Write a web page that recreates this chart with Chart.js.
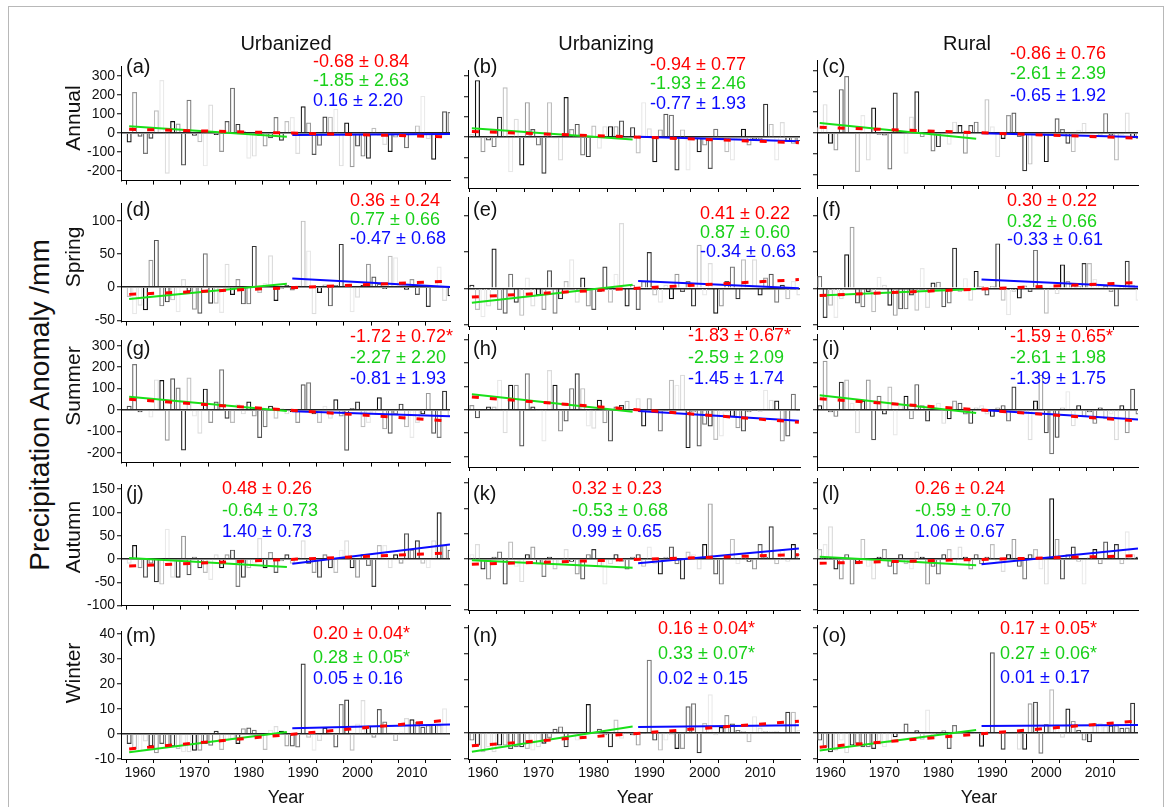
<!DOCTYPE html>
<html>
<head>
<meta charset="utf-8">
<script src="https://cdn.jsdelivr.net/npm/chart.js@4.4.1/dist/chart.umd.min.js"></script>
<style>
  body { margin: 0; background: #fff; }
  #fig { position: relative; width: 1167px; height: 807px; overflow: hidden; background: #fff;
         font-family: "Liberation Sans", Arial, sans-serif; color: #111; }
  #frame { position: absolute; left: 8px; top: 6px; width: 1154px; height: 820px; border: 1.5px solid #b8b8b8; }
  canvas { position: absolute; }
  .t { position: absolute; white-space: nowrap; line-height: 1; }
</style>
</head>
<body>
<div id="fig"><div id="frame"></div></div>
<script>
// ---- data ----
const years = Array.from({ length: 60 }, (_, i) => 1958 + i);

const colTitles = ['Urbanized', 'Urbanizing', 'Rural'];
const rowTitles = ['Annual', 'Spring', 'Summer', 'Autumn', 'Winter'];
const panelLetters = ['a','b','c','d','e','f','g','h','i','j','k','l','m','n','o'];

const xTickYears = [1960, 1965, 1970, 1975, 1980, 1985, 1990, 1995, 2000, 2005, 2010, 2015];
const yTicksAnnual = [-200, -100, 0, 100, 200, 300];
const yTicksSpring = [-50, 0, 50, 100];
const yTicksSummer = [-200, -100, 0, 100, 200, 300];
const yTicksAutumn = [-100, -50, 0, 50, 100, 150];
const yTicksWinter = [-10, 0, 10, 20, 30, 40];

const annualUrbanized = [
  -50, 215, -20, -110, -30, 120, 278, -214, 63, 50,
  -171, 175, -15, -48, -175, 150, -10, -100, 63, 238,
  48, 10, -135, -124, -15, -71, -27, 84, -40, 63,
  84, -110, 140, 55, -115, -67, 87, 85, 127, -175,
  55, -180, -71, -124, -135, 28, -16, -63, -100, -24,
  -10, -80, -10, 40, 195, -32, -140, -10, 114, 110
];
const annualUrbanizing = [
  15, 280, -74, -16, -49, 100, 245, -172, 90, -139,
  172, 40, -41, -180, 172, -8, -115, 197, 40, 65,
  -90, -98, 57, -57, 54, 54, 54, 82, 5, 49,
  -80, 172, 44, -123, 38, 115, 110, -164, 38, -164,
  -8, -74, -41, -156, 41, -10, -74, -115, -10, 41,
  -41, -10, -10, 164, 65, -115, 74, -20, -33, -20
];
const annualRural = [
  27, 138, -52, -84, 210, 273, -5, -187, 86, -132,
  122, -10, -12, -175, 194, 10, -100, 79, 200, -20,
  5, -89, -68, 5, -57, 54, 38, -100, 38, 54,
  5, 162, 32, -116, -29, 86, 98, -20, -184, -152,
  -10, -5, -140, -10, 70, 19, -52, -92, 15, 48,
  5, -5, -8, 95, -12, -132, -10, 98, -25, -29
];
const springUrbanized = [
  -15, -41, -28, -35, 41, 71, -29, -23, -20, -38,
  12, -7, -34, -40, 51, -25, -25, -39, 35, -12,
  12, -26, -26, 62, -9, 6, 48, -21, -3, 3,
  -5, 2, 100, 55, -41, -9, 4, -29, 3, 65,
  4, -38, -16, 3, 35, 16, 5, -3, 47, 45,
  3, -4, 12, -12, 3, -30, 2, 31, -21, -14
];
const springUrbanizing = [
  5, -30, -40, -25, 55, -30, -35, 20, -20, -38,
  15, -25, -10, -30, 25, -35, -15, 10, 40, -20,
  15, -25, -30, -5, 30, -20, 20, 90, -25, 5,
  -30, 10, 50, -10, -20, 5, -15, 20, -5, 10,
  -25, 60, -10, 35, -35, -25, 10, 30, -15, 40,
  5, 40, -10, 15, 20, -20, 5, -15, 10, -10
];
const springRural = [
  17, -41, -24, -41, -15, 47, 85, -21, -26, -5,
  -33, 16, 5, -24, -38, -29, -29, -10, -31, 28,
  -27, 8, 9, -26, -21, 56, -5, 14, -17, 24,
  3, -10, 3, 62, -17, -37, -5, -14, 4, -5,
  53, 2, -35, 3, -8, 33, 10, 5, 3, 35,
  35, 13, 4, 3, -5, -25, 3, 38, 5, -17
];
const summerUrbanized = [
  20, 215, -10, 5, -35, 143, 140, -143, 148, 105,
  -188, 152, -30, -110, 100, -60, 40, 190, -40, -60,
  30, -20, 40, -30, -130, -80, 20, -40, 10, -20,
  -10, -60, 120, 130, -20, -60, 20, -40, 50, -30,
  -190, 10, 40, -80, -60, -20, 60, -90, -110, -20,
  30, -80, -130, -60, -20, 80, -110, -130, 90, -30
];
const summerUrbanizing = [
  21, -36, -5, 14, 14, 129, -100, 107, 107, -157,
  157, 14, -5, -136, 171, 107, -93, -50, 93, 157,
  93, -71, -81, 43, -57, -136, 14, 21, 39, -5,
  50, -71, 50, -5, -93, -5, 129, 107, 150, -164,
  -10, -157, -64, -71, -129, -114, -10, -31, -79, -93,
  -10, -5, -8, 86, 43, 40, -136, -114, 69, -5
];
const summerRural = [
  20, 210, -10, -30, 120, 130, 30, -100, 40, 130,
  -130, 60, -20, 100, -110, 20, 60, -40, 110, 20,
  -50, 10, 30, -60, -40, 40, 30, -20, -60, 10,
  20, -20, -30, 10, 20, -50, 100, -10, -20, -130,
  40, 150, -100, -190, -120, 10, 80, -70, 20, -30,
  -10, -60, 10, -40, -20, -130, 20, -100, 90, -20
];
const autumnUrbanized = [
  -10, 30, -20, -40, -10, -50, -55, 65, -40, -40,
  50, -35, 5, -20, -30, -45, 10, -20, 10, 20,
  -60, -40, -20, -10, 45, -20, 15, -30, -5, 10,
  -10, 5, 40, -10, -30, -40, 10, -20, -30, 20,
  40, -20, -40, 10, -15, -60, 30, 30, -20, 10,
  -10, 55, 20, 40, -10, -20, 40, 100, 30, 20
];
const autumnUrbanizing = [
  10, 30, -20, -40, 5, 15, -50, 35, -15, -45,
  10, 25, -10, -35, 5, -20, -10, 20, -5, -30,
  -40, 10, 20, -15, -50, -10, 10, -5, -20, 5,
  10, -15, 25, -10, -30, 5, 25, -10, -40, 15,
  10, -20, 30, 110, -30, -50, 5, 40, -10, 10,
  -5, -20, 30, 5, 65, -10, 20, -5, 30, 10
];
const autumnRural = [
  20, 30, 65, -20, -40, 10, -50, -10, 40, -15,
  -40, 5, 20, -15, -30, 10, -10, -20, 15, 5,
  -50, -15, -30, 10, 20, -10, 25, 5, -20, 10,
  -10, 5, 30, -5, -25, 10, 40, -15, -40, 10,
  20, -20, -50, 120, 40, -40, 10, 25, -5, -50,
  5, 20, -10, 35, 5, 30, -10, 55, 10, 5
];
const winterUrbanized = [
  -4, -6, -7, -3, -5, -7.7, -4, -5, -5, -6,
  -7.3, -7.3, -6.7, -6.7, -4, -4.7, 1.3, -6.4, -2.8, -2,
  -4, 2.3, 2.6, 1.7, -1, -6.4, 1.7, 3.2, 1.3, -5,
  -5, -5.4, 28.2, -1.5, -6.7, -2.8, 2.6, 0.3, -5.4, 12,
  13.8, -6.7, 4.2, 13.6, 3.3, -1.5, 10, 5, 0.5, -2.8,
  1, 6.4, 5.9, 4.9, 2.9, 3.6, 3.8, 3.6, 10.3, -0.5
];
const winterUrbanizing = [
  -3, -4.9, -7.4, -5.5, -7.4, -4.9, -4.9, -6.2, -5.5, -5.5,
  -6.2, -6.8, -5.5, -4.2, -2, 1.5, 2.4, -5.5, 0.3, -3,
  -1, 10.9, -0.5, 1.5, -1, -5.5, 5, -2.3, -0.5, -1,
  -4.9, -0.5, 27.8, -3, -6.8, -3, -1, -6.2, -6.2, 10.1,
  11.2, -7.8, 3.7, 14.6, -1, 2.2, 6.7, 3.5, 1, 0.5,
  -3.6, 6.3, 2, 0.5, 0.5, 0.5, -0.5, 8, 8, 1
];
const winterRural = [
  -3, -5.5, -7.4, -6.8, -3, -7.8, -4.9, -4, -5.5, -5.5,
  -6.2, -4.5, -5.5, -4, -1.7, -0.5, 3.5, 0.3, 0.9, -2.7,
  8.8, -2.3, -0.5, 0.9, -6.2, 2.9, 0.5, -0.5, 0.3, -0.5,
  -5.3, -0.3, 30.6, -0.3, -6.5, 0.3, 0.5, -6.5, -6.5, 11.2,
  11.8, -8, 3.2, 16.5, 3.2, -1.9, 9.2, 4.5, 1, -3,
  -3.6, 3.7, 3.7, 2.5, 2.8, 2.8, 1.9, 2, 11.4, 0
];

// trend lines: [value at start, value at end]
const trendFullYears = [1958, 2017];
const trendEarlyYears = [1958, 1987];
const trendLateYears = [1988, 2017];
const trendFull = [
  [20, -20], [28, -27], [27, -25],
  [-11, 9], [-12, 12], [-10, 8],
  [50, -51], [55, -53], [47, -47],
  [-15, 13], [-10, 9], [-8, 7],
  [-6, 5.6], [-5, 4.4], [-5.5, 4.5]
];
const trendEarly = [
  [35, -19], [44, -12], [48, -28],
  [-18, 5], [-20, 5], [-10, -1],
  [62, -4], [67, -8], [62, -14],
  [2, -17], [-2, -17], [5, -12],
  [-7.3, 0.8], [-7.2, 2.4], [-6.8, 1.0]
];
const trendLate = [
  [-10, -5], [2, -20], [-2, -20],
  [13, 0], [10, 0], [12, 2],
  [-5, -29], [-5, -47], [-1, -41],
  [-10, 31], [-8, 21], [-10, 21],
  [2.3, 3.8], [2.2, 2.8], [2.6, 2.9]
];

const statsFull = [
  '-0.68 ± 0.84', '-0.94 ± 0.77', '-0.86 ± 0.76',
  '0.36 ± 0.24', '0.41 ± 0.22', '0.30 ± 0.22',
  '-1.72 ± 0.72*', '-1.83 ± 0.67*', '-1.59 ± 0.65*',
  '0.48 ± 0.26', '0.32 ± 0.23', '0.26 ± 0.24',
  '0.20 ± 0.04*', '0.16 ± 0.04*', '0.17 ± 0.05*'
];
const statsEarly = [
  '-1.85 ± 2.63', '-1.93 ± 2.46', '-2.61 ± 2.39',
  '0.77 ± 0.66', '0.87 ± 0.60', '0.32 ± 0.66',
  '-2.27 ± 2.20', '-2.59 ± 2.09', '-2.61 ± 1.98',
  '-0.64 ± 0.73', '-0.53 ± 0.68', '-0.59 ± 0.70',
  '0.28 ± 0.05*', '0.33 ± 0.07*', '0.27 ± 0.06*'
];
const statsLate = [
  '0.16 ± 2.20', '-0.77 ± 1.93', '-0.65 ± 1.92',
  '-0.47 ± 0.68', '-0.34 ± 0.63', '-0.33 ± 0.61',
  '-0.81 ± 1.93', '-1.45 ± 1.74', '-1.39 ± 1.75',
  '1.40 ± 0.73', '0.99 ± 0.65', '1.06 ± 0.67',
  '0.05 ± 0.16', '0.02 ± 0.15', '0.01 ± 0.17'
];

const panelSeries = [
  annualUrbanized, annualUrbanizing, annualRural,
  springUrbanized, springUrbanizing, springRural,
  summerUrbanized, summerUrbanizing, summerRural,
  autumnUrbanized, autumnUrbanizing, autumnRural,
  winterUrbanized, winterUrbanizing, winterRural
];
const rowTicks = [yTicksAnnual, yTicksSpring, yTicksSummer, yTicksAutumn, yTicksWinter];

// ---- layout (page pixels) ----
const FONT = '"Liberation Sans", Arial, sans-serif';
const colBox = [
  { l: 121, r: 450, min: 1956.5, max: 2017.0 },
  { l: 468, r: 800, min: 1957.3, max: 2017.2 },
  { l: 817, r: 1138, min: 1957.5, max: 2017.0 }
];
const rowBox = [
  { t: 60, b: 185, min: -250, max: 350 },
  { t: 197, b: 326, min: -52, max: 126 },
  { t: 334, b: 467, min: -245, max: 325 },
  { t: 478, b: 610, min: -100, max: 160 },
  { t: 625, b: 759, min: -10, max: 41 }
];
// panel (b) sits a little lower than its neighbours
const boxOverride = { 1: { t: 70, b: 188, min: -250, max: 330 } };

// [x, yRed, yGreen, yBlue] for the slope texts
const statPos = [
  [313, 61, 80, 100], [650, 64, 83, 103], [1010, 53, 73, 95],
  [350, 200, 219, 238], [700, 213, 232, 251], [1007, 200, 221, 239],
  [350, 336, 357, 378], [688, 335, 357, 378], [1010, 336, 357, 378],
  [222, 488, 510, 531], [572, 488, 510, 531], [915, 488, 510, 531],
  [313, 633, 657, 678], [658, 628, 653, 678], [1000, 628, 653, 677]
];
const letterY = [66, 209, 348, 493, 635];
const shades = ['#111', '#bdbdbd', '#555', '#dcdcdc', '#333', '#999', '#e8e8e8', '#777'];

const Y_AXIS_W = 50;
const PAD_R = 6;
const PAD_T = 4;

const fig = document.getElementById('fig');

function addText (txt, x, y, opts = {}) {
  const d = document.createElement('div');
  d.className = 't';
  d.textContent = txt;
  d.style.left = x + 'px';
  d.style.top = y + 'px';
  d.style.fontSize = (opts.size || 18) + 'px';
  d.style.color = opts.color || '#111';
  let tf = opts.center ? 'translate(-50%,-50%)' : 'translateY(-50%)';
  if (opts.rotate) tf += ' rotate(-90deg)';
  d.style.transform = tf;
  fig.appendChild(d);
}

function makePanel (p) {
  const row = Math.floor(p / 3);
  const col = p % 3;
  const cb = colBox[col];
  const rb = Object.assign({}, rowBox[row], boxOverride[p] || {});
  const xH = row === 4 ? 24 : 6;

  const canvas = document.createElement('canvas');
  const w = (cb.r - cb.l) + Y_AXIS_W + PAD_R;
  const h = (rb.b - rb.t) + PAD_T + xH;
  canvas.width = w;
  canvas.height = h;
  canvas.style.left = (cb.l - Y_AXIS_W) + 'px';
  canvas.style.top = (rb.t - PAD_T) + 'px';
  canvas.style.width = w + 'px';
  canvas.style.height = h + 'px';
  fig.appendChild(canvas);

  const vals = panelSeries[p];
  const line = (xs, ys) => [{ x: xs[0], y: ys[0] }, { x: xs[1], y: ys[1] }];

  new Chart(canvas, {
    type: 'bar',
    data: {
      datasets: [
        {
          type: 'line',
          data: line(trendFullYears, trendFull[p]),
          borderColor: '#ff0000',
          borderWidth: 3,
          borderDash: [7, 11],
          pointRadius: 0,
          order: 1
        },
        {
          type: 'line',
          data: line(trendEarlyYears, trendEarly[p]),
          borderColor: '#19e019',
          borderWidth: 2,
          pointRadius: 0,
          order: 2
        },
        {
          type: 'line',
          data: line(trendLateYears, trendLate[p]),
          borderColor: '#0a0aff',
          borderWidth: 2,
          pointRadius: 0,
          order: 2
        },
        {
          type: 'bar',
          data: years.map((yr, i) => ({ x: yr, y: vals[i] })),
          backgroundColor: 'rgba(0,0,0,0)',
          borderColor: years.map((yr, i) => shades[(i * 5 + p * 3) % shades.length]),
          borderWidth: 1.2,
          borderSkipped: 'start',
          barPercentage: 1,
          categoryPercentage: 0.92,
          order: 3
        }
      ]
    },
    options: {
      responsive: false,
      animation: false,
      devicePixelRatio: 1,
      layout: { padding: { top: PAD_T, right: PAD_R, left: 0, bottom: 0 } },
      plugins: { legend: { display: false }, tooltip: { enabled: false } },
      scales: {
        x: {
          type: 'linear',
          min: cb.min,
          max: cb.max,
          offset: false,
          afterBuildTicks: s => { s.ticks = xTickYears.map(v => ({ value: v })); },
          afterFit: s => { s.height = xH; },
          grid: { drawOnChartArea: false, drawTicks: true, tickLength: 4, tickColor: '#000', tickWidth: 1 },
          border: { display: true, color: '#000', width: 1 },
          ticks: {
            display: row === 4,
            autoSkip: false,
            maxRotation: 0,
            padding: 2,
            color: '#111',
            font: { family: FONT, size: 14 },
            callback: v => (v % 10 === 0 ? String(v) : '')
          }
        },
        y: {
          min: rb.min,
          max: rb.max,
          afterBuildTicks: s => { s.ticks = rowTicks[row].map(v => ({ value: v })); },
          afterFit: s => { s.width = Y_AXIS_W; },
          grid: {
            color: c => (c.tick && c.tick.value === 0 ? '#222' : 'rgba(0,0,0,0)'),
            lineWidth: 1.5,
            drawTicks: true,
            tickLength: 4,
            tickColor: '#000',
            tickWidth: 1
          },
          border: { display: true, color: '#000', width: 1 },
          ticks: {
            display: col === 0,
            padding: 2,
            color: '#111',
            font: { family: FONT, size: 14 }
          }
        }
      }
    }
  });

  // panel letter and slope texts
  addText('(' + panelLetters[p] + ')', cb.l + 5, letterY[row], { size: 20 });
  const sp = statPos[p];
  addText(statsFull[p], sp[0], sp[1], { color: '#ff0000' });
  addText(statsEarly[p], sp[0], sp[2], { color: '#19d019' });
  addText(statsLate[p], sp[0], sp[3], { color: '#0a0aff' });
}

for (let p = 0; p < 15; p++) makePanel(p);

// titles
const colCenters = [286, 606, 967];
colTitles.forEach((t, i) => addText(t, colCenters[i], 43, { size: 20, center: true }));
const yearCenters = [286, 635, 979];
yearCenters.forEach(x => addText('Year', x, 797, { size: 18, center: true }));
const rowCenters = [118, 257, 386, 537, 673];
rowTitles.forEach((t, i) => addText(t, 72, rowCenters[i], { size: 21, center: true, rotate: true }));
addText('Precipitation Anomaly /mm', 40, 405, { size: 28, center: true, rotate: true });
</script>
</body>
</html>
